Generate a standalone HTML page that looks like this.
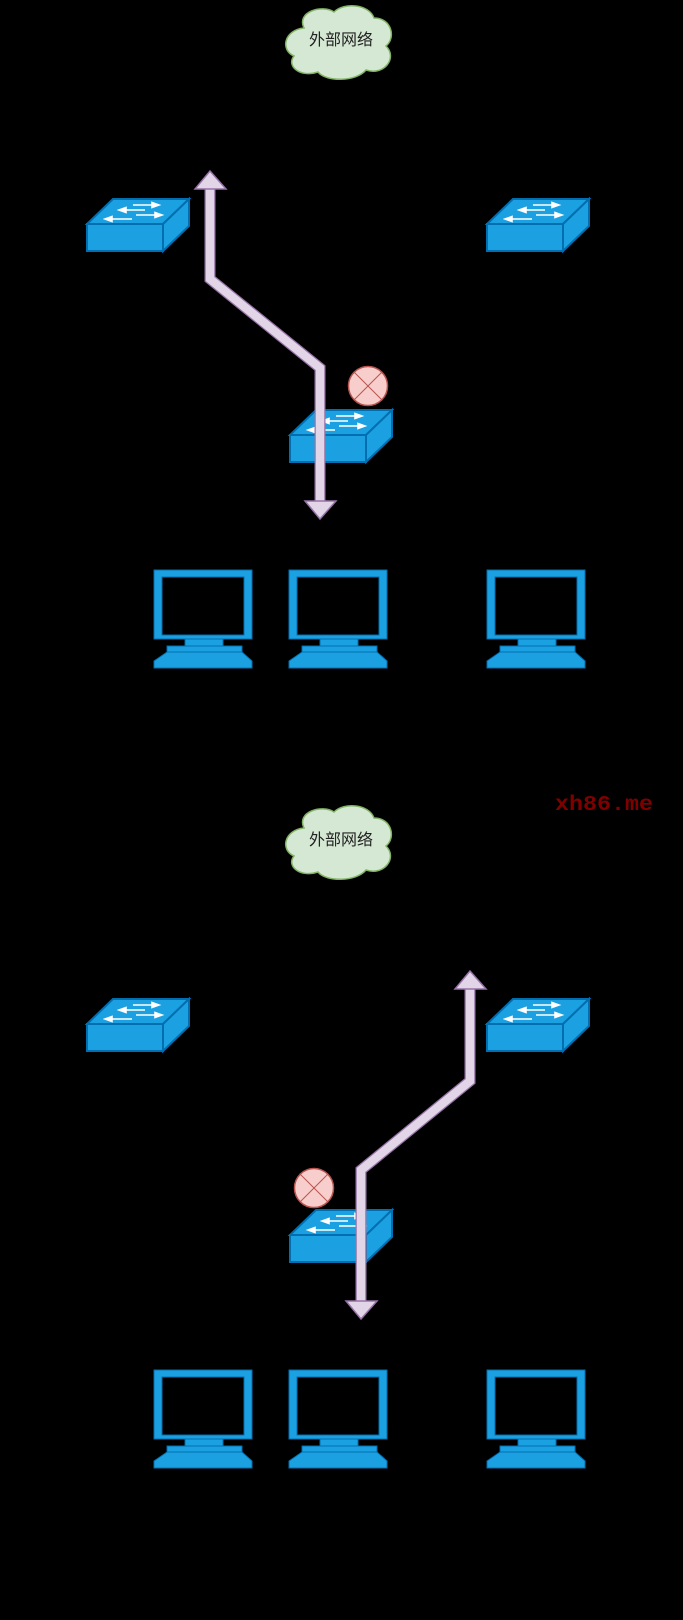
<!DOCTYPE html>
<html><head><meta charset="utf-8"><style>
html,body{margin:0;padding:0;background:#000;}
svg{display:block;}
</style></head><body>
<svg width="683" height="1620" viewBox="0 0 683 1620" xmlns="http://www.w3.org/2000/svg">
<defs>
<g id="sw">
  <polygon points="0,25 26,0 102,0 76,25" fill="#1ba1e2" stroke="#006eaf" stroke-width="2"/>
  <polygon points="76,25 102,0 102,27 76,52" fill="#1ba1e2" stroke="#006eaf" stroke-width="2"/>
  <rect x="0" y="25" width="76" height="27" fill="#1ba1e2" stroke="#006eaf" stroke-width="2"/>
  <g stroke="#fff" stroke-width="1.6" fill="#fff">
    <line x1="46" y1="6" x2="66" y2="6"/><polygon points="72,6 65,3.5 65,8.5"/>
    <line x1="38" y1="11" x2="58" y2="11"/><polygon points="32,11 39,8.5 39,13.5"/>
    <line x1="49" y1="16" x2="69" y2="16"/><polygon points="75,16 68,13.5 68,18.5"/>
    <line x1="24" y1="20" x2="45" y2="20"/><polygon points="18,20 25,17.5 25,22.5"/>
  </g>
</g>
<g id="pc">
  <path fill="#1ba1e2" stroke="#006eaf" stroke-width="1" fill-rule="evenodd"
    d="M0,0 H98 V69 H0 Z M8,7 V65 H90 V7 Z"/>
  <rect x="31" y="69" width="38" height="7" fill="#1ba1e2" stroke="#006eaf" stroke-width="1"/>
  <rect x="13" y="76" width="75" height="6" fill="#1ba1e2" stroke="#006eaf" stroke-width="1"/>
  <polygon points="13,82 0,91 0,98 98,98 98,91 88,82" fill="#1ba1e2" stroke="#006eaf" stroke-width="1"/>
</g>
<g id="cloud">
  <path d="M304,28 C296,12 322,4 334,12 C344,2 369,4 374,18 C392,18 396,38 386,46 C398,58 384,76 366,70 C356,82 326,82 318,72 C300,78 286,66 294,56 C280,50 284,30 304,28 Z"
    fill="#d5e8d4" stroke="#82b366" stroke-width="1.5"/>
  <text x="341" y="45" font-family="Liberation Sans, Noto Sans CJK SC, sans-serif" font-size="16" fill="#222" text-anchor="middle">外部网络</text>
</g>
</defs>

<!-- top half -->
<use href="#cloud"/>
<use href="#sw" x="87" y="199"/>
<use href="#sw" x="487" y="199"/>
<use href="#sw" x="290" y="410"/>
<use href="#pc" x="154" y="570"/>
<use href="#pc" x="289" y="570"/>
<use href="#pc" x="487" y="570"/>
<polyline points="210,189 210,279 320,368 320,501" fill="none" stroke="#9673a6" stroke-width="11" stroke-linejoin="miter"/>
<polyline points="210,189 210,279 320,368 320,501" fill="none" stroke="#e1d5e7" stroke-width="8.5" stroke-linejoin="miter"/>
<polygon points="210,171 226,189 195,189" fill="#e1d5e7" stroke="#9673a6" stroke-width="1.5"/>
<polygon points="320,519 336,501 305,501" fill="#e1d5e7" stroke="#9673a6" stroke-width="1.5"/>
<circle cx="368" cy="386" r="19.5" fill="#f8cecc" stroke="#b85450" stroke-width="1.5"/>
<line x1="354" y1="372" x2="382" y2="400" stroke="#b85450" stroke-width="1"/>
<line x1="382" y1="372" x2="354" y2="400" stroke="#b85450" stroke-width="1"/>

<text x="555" y="810" font-family="Liberation Mono, monospace" font-weight="bold" font-size="21" fill="#800000" textLength="98" lengthAdjust="spacingAndGlyphs">xh86.me</text>

<!-- bottom half -->
<use href="#cloud" y="800"/>
<use href="#sw" x="87" y="999"/>
<use href="#sw" x="487" y="999"/>
<use href="#sw" x="290" y="1210"/>
<use href="#pc" x="154" y="1370"/>
<use href="#pc" x="289" y="1370"/>
<use href="#pc" x="487" y="1370"/>
<polyline points="470,989 470,1081 361,1170 361,1301" fill="none" stroke="#9673a6" stroke-width="11" stroke-linejoin="miter"/>
<polyline points="470,989 470,1081 361,1170 361,1301" fill="none" stroke="#e1d5e7" stroke-width="8.5" stroke-linejoin="miter"/>
<polygon points="470,971 486,989 455,989" fill="#e1d5e7" stroke="#9673a6" stroke-width="1.5"/>
<polygon points="361,1319 377,1301 346,1301" fill="#e1d5e7" stroke="#9673a6" stroke-width="1.5"/>
<circle cx="314" cy="1188" r="19.5" fill="#f8cecc" stroke="#b85450" stroke-width="1.5"/>
<line x1="300" y1="1174" x2="328" y2="1202" stroke="#b85450" stroke-width="1"/>
<line x1="328" y1="1174" x2="300" y2="1202" stroke="#b85450" stroke-width="1"/>
</svg>
</body></html>
